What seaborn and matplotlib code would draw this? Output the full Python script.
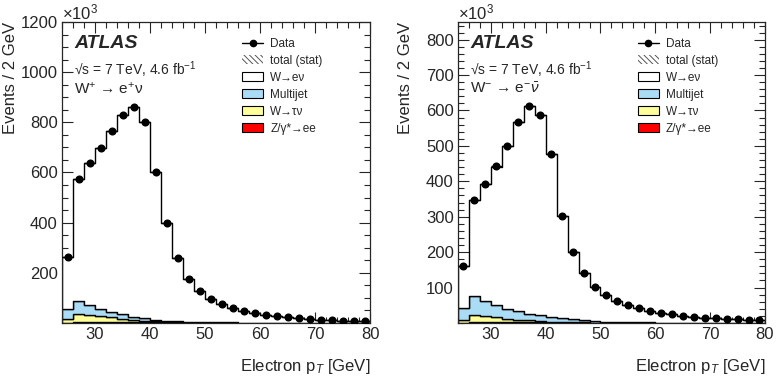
import numpy as np
import pandas as pd
import matplotlib
matplotlib.use('Agg')
import matplotlib.pyplot as plt
from matplotlib.lines import Line2D
from matplotlib.patches import Patch
from matplotlib.ticker import MultipleLocator
import seaborn as sns

# Bin centres of electron pT (2 GeV bins from 24 to 80) and the process names
centers = np.arange(25, 80, 2)
processes = ['W\u2192e\u03bd', 'Multijet', 'W\u2192\u03c4\u03bd', 'Z/\u03b3*\u2192ee']
colors = ['white', '#aadcf5', '#ffff99', '#ff0000']

# W+ -> e+ nu (events in thousands)
data_plus = [263, 572, 636, 696, 764, 831, 862, 803, 603, 399, 260, 177, 129, 96,
             74, 58, 47, 38, 31, 26, 22, 18, 15, 13, 11, 9.5, 8, 7]
sig_plus = [209, 485, 565, 642, 721, 797, 838, 785, 591, 390, 253, 172, 125, 93,
            71.5, 56, 45.4, 36.7, 30, 25.1, 21.3, 17.4, 14.5, 12.6, 10.6, 9.2, 7.7, 6.7]
mj_plus = [39, 53, 40, 27, 21, 18, 12, 9, 6, 4.5, 3.5, 2.5, 2, 1.5,
           1.3, 1, 0.8, 0.6, 0.5, 0.4, 0.3, 0.3, 0.2, 0.2, 0.2, 0.1, 0.1, 0.1]
tau_plus = [14, 32, 29, 25, 20, 14, 10, 7, 4, 3, 2.3, 1.5, 1.2, 0.9,
            0.7, 0.6, 0.5, 0.4, 0.3, 0.3, 0.2, 0.2, 0.2, 0.1, 0.1, 0.1, 0.1, 0.1]
z_plus = [1.0, 2.0, 2.0, 2.0, 2.0, 2.0, 2.0, 2.0, 2.0, 1.5, 1.2, 1.0, 0.8, 0.6,
          0.5, 0.4, 0.3, 0.3, 0.2, 0.2, 0.2, 0.1, 0.1, 0.1, 0.1, 0.1, 0.1, 0.1]

# W- -> e- nubar (events in thousands)
data_minus = [160, 348, 393, 442, 501, 567, 614, 588, 477, 301, 200, 140, 102, 78,
              62, 50, 41, 34, 29, 24, 20, 17, 15, 13, 11, 10, 8.5, 7.5]
sig_minus = [117, 271, 331, 391, 460, 533, 588, 566, 460, 288, 190, 133, 96.5, 74,
             59, 47.5, 39, 32.4, 27.7, 23, 19.2, 16.3, 14.4, 12.5, 10.6, 9.7, 8.2, 7.3]
mj_minus = [35, 53, 41, 34, 28, 24, 18, 16, 13, 10, 8, 5.5, 4.3, 3.1,
            2.3, 1.9, 1.5, 1.2, 1.0, 0.7, 0.6, 0.5, 0.4, 0.3, 0.3, 0.2, 0.2, 0.1]
tau_minus = [7, 22, 19, 15, 11, 8, 6.5, 4.5, 2.5, 1.8, 1.2, 0.8, 0.6, 0.4,
             0.3, 0.3, 0.2, 0.2, 0.1, 0.1, 0.1, 0.1, 0.1, 0.1, 0.1, 0.1, 0.1, 0.1]
z_minus = [0.8, 1.5, 1.5, 1.5, 1.5, 1.5, 1.5, 1.5, 1.5, 1.2, 1.0, 0.8, 0.6, 0.5,
           0.4, 0.3, 0.3, 0.2, 0.2, 0.2, 0.1, 0.1, 0.1, 0.1, 0.1, 0.1, 0.1, 0.1]

sns.set_style('ticks')
plt.rcParams['font.family'] = ['Liberation Sans', 'DejaVu Sans']
plt.rcParams['mathtext.fontset'] = 'custom'
plt.rcParams['mathtext.rm'] = 'Liberation Sans'
plt.rcParams['mathtext.it'] = 'Liberation Sans:italic'
plt.rcParams['mathtext.bf'] = 'Liberation Sans:bold'
plt.rcParams['hatch.linewidth'] = 0.7

fig = plt.figure(figsize=(7.77, 3.82), dpi=100)
ax_l = fig.add_axes([0.0798, 0.1545, 0.3964, 0.788])
ax_r = fig.add_axes([0.5894, 0.1545, 0.3951, 0.788])

panels = [
    (ax_l, data_plus, [sig_plus, mj_plus, tau_plus, z_plus], 1200, 200, 50,
     'W$^{+}$ \u2192 e$^{+}$\u03bd', -0.143),
    (ax_r, data_minus, [sig_minus, mj_minus, tau_minus, z_minus], 850, 100, 20,
     'W$^{-}$ \u2192 e$^{-}\\bar{\\nu}$', -0.147),
]

for ax, data, comps, ymax, ymaj, ymin, channel, ylab_x in panels:
    # long table for the stacked histogram
    rows = []
    for name, vals in zip(processes, comps):
        for c, v in zip(centers, vals):
            rows.append({'pt': c, 'w': v, 'process': name})
    df = pd.DataFrame(rows)
    sns.histplot(data=df, x='pt', weights='w', hue='process', hue_order=processes,
                 binwidth=2, binrange=(24, 80), multiple='stack', element='step',
                 fill=True, palette=dict(zip(processes, colors)), alpha=1,
                 edgecolor='black', linewidth=1.0, legend=False, ax=ax)
    ax.errorbar(centers, data, xerr=1, fmt='o', color='black', ms=4.8,
                elinewidth=1, capsize=0, zorder=5)

    ax.set_xlim(24, 80)
    ax.set_ylim(0, ymax)
    ax.xaxis.set_major_locator(MultipleLocator(10))
    ax.xaxis.set_minor_locator(MultipleLocator(2))
    ax.set_yticks(np.arange(ymaj, ymax + 1, ymaj))
    ax.yaxis.set_minor_locator(MultipleLocator(ymin))
    ax.tick_params(which='both', direction='in', top=True, right=True,
                   labelsize=12, width=0.8)
    ax.tick_params(which='major', length=8, pad=3)
    ax.tick_params(which='minor', length=4)
    for sp in ax.spines.values():
        sp.set_linewidth(0.9)
        sp.set_visible(True)

    ax.set_xlabel('Electron p$_{T}$ [GeV]', fontsize=12, loc='right', labelpad=11)
    ax.set_ylabel('Events / 2 GeV', fontsize=12, loc='top')
    ax.yaxis.set_label_coords(ylab_x, 1.0)
    ax.text(0.0, 1.0, '\u00d710$^{3}$', transform=ax.transAxes, fontsize=12,
            ha='left', va='bottom')

    ax.text(0.039, 0.93, 'ATLAS', transform=ax.transAxes, fontsize=14,
            fontweight='bold', fontstyle='italic', va='center')
    ax.text(0.039, 0.842, '\u221as = 7 TeV, 4.6 fb$^{-1}$', transform=ax.transAxes,
            fontsize=10, va='center')
    ax.text(0.039, 0.78, channel, transform=ax.transAxes, fontsize=11, va='center')

    handles = [
        Line2D([], [], color='black', marker='o', ms=4.5, lw=1),
        Patch(facecolor='white', edgecolor='#555555', hatch='\\\\\\\\\\\\', lw=0),
    ] + [Patch(facecolor=c, edgecolor='black', lw=0.8) for c in colors]
    labels = ['Data', 'total (stat)'] + processes
    x0 = 0.584 if ax is ax_l else 0.585
    ax.legend(handles, labels, loc='upper left', bbox_to_anchor=(x0, 0.947),
              frameon=False, fontsize=8.5, handlelength=1.8, handleheight=0.85,
              handletextpad=0.6, labelspacing=0.42, borderpad=0, borderaxespad=0)

fig.savefig('out.png', dpi=100)
